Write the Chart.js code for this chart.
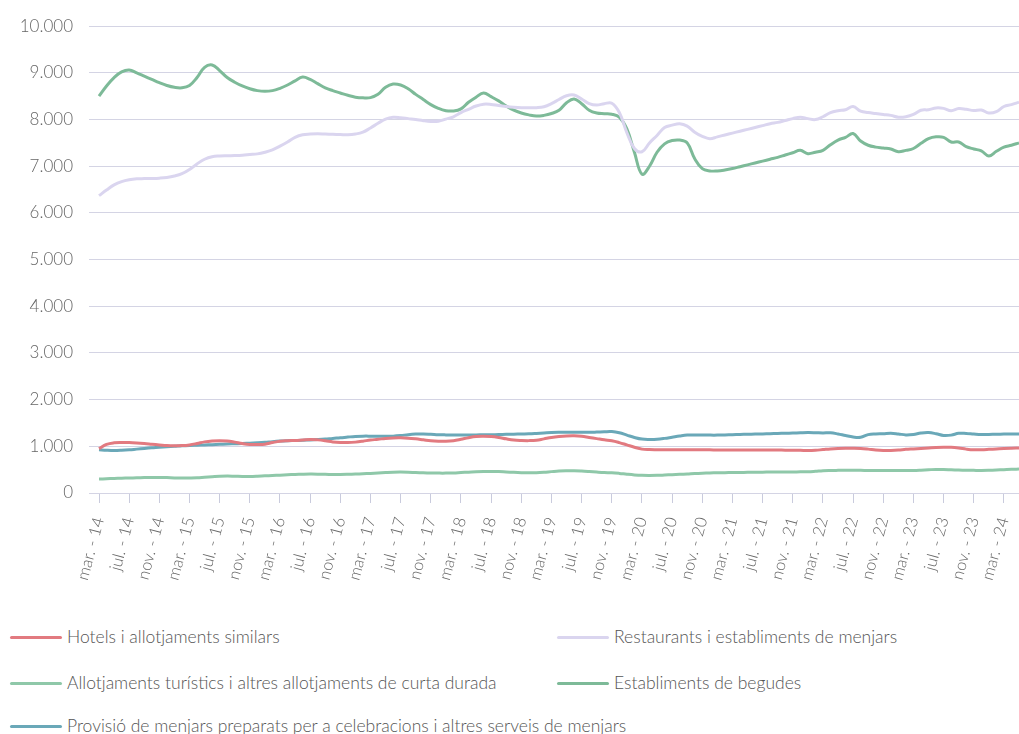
<!DOCTYPE html>
<html>
<head>
<meta charset="utf-8">
<script src="https://cdn.jsdelivr.net/npm/chart.js@4"></script>
<style>
  body { margin: 0; background: #fff; font-family: Lato, "Open Sans", sans-serif; }
  #wrap { position: relative; width: 1019px; height: 734px; overflow: hidden; }
  #legend { position: absolute; left: 0; top: 626px; width: 1019px; }
  .item { position: absolute; display: flex; align-items: center; font-size: 17.5px; font-weight: 300; color: #555; white-space: nowrap; line-height: 22px; }
  .item span.line { display: inline-block; width: 52px; height: 3px; border-radius: 2px; margin-right: 5px; }
</style>
</head>
<body>
<div id="wrap">
  <canvas id="chart" width="1019" height="600"></canvas>
  <div id="legend"></div>
</div>
<script>
// months mar. 2014 - maig 2024
var mesos = ['gen.', 'febr.', 'mar.', 'abr.', 'maig', 'juny', 'jul.', 'ag.', 'set.', 'oct.', 'nov.', 'des.'];
var labels = [];
for (var k = 0; k < 123; k++) {
  var m = (2 + k) % 12;
  var y = 14 + Math.floor((2 + k) / 12);
  labels.push(mesos[m] + ' - ' + y);
}

var hotels = [950, 1040, 1075, 1082, 1080, 1072, 1060, 1045, 1030, 1015, 1010, 1015, 1030, 1060, 1095, 1115, 1122, 1115, 1090, 1060,
  1040, 1038, 1045, 1080, 1110, 1120, 1125, 1135, 1145, 1138, 1120, 1095, 1082, 1080, 1090, 1110, 1135, 1150, 1170, 1180,
  1182, 1175, 1160, 1140, 1120, 1110, 1108, 1120, 1150, 1185, 1210, 1215, 1210, 1190, 1160, 1135, 1125, 1122, 1130, 1160,
  1190, 1210, 1222, 1225, 1215, 1190, 1165, 1140, 1120, 1080, 1030, 980, 940, 930, 928, 927, 926, 926, 925, 925,
  924, 924, 923, 923, 922, 922, 921, 921, 920, 920, 919, 918, 917, 915, 910, 915, 930, 945, 955, 960,
  960, 955, 940, 920, 910, 912, 920, 935, 945, 955, 965, 975, 980, 980, 965, 940, 925, 927, 935, 945,
  955, 960, 962];

var restaurants = [6370, 6490, 6600, 6670, 6710, 6730, 6735, 6738, 6745, 6760, 6790, 6840, 6930, 7050, 7150, 7205, 7220, 7225, 7228, 7235,
  7250, 7265, 7300, 7350, 7430, 7520, 7620, 7675, 7690, 7695, 7690, 7685, 7680, 7675, 7690, 7730, 7820, 7920, 8010, 8050,
  8040, 8020, 8000, 7975, 7960, 7965, 8010, 8060, 8150, 8220, 8290, 8330, 8325, 8300, 8280, 8265, 8255, 8252, 8255, 8275,
  8340, 8430, 8510, 8525, 8440, 8340, 8310, 8340, 8350, 8150, 7720, 7380, 7310, 7500, 7660, 7830, 7880, 7910, 7860, 7730,
  7640, 7590, 7630, 7670, 7710, 7750, 7790, 7830, 7870, 7910, 7940, 7980, 8020, 8050, 8020, 8000, 8060, 8150, 8190, 8210,
  8280, 8180, 8150, 8130, 8110, 8090, 8050, 8060, 8110, 8200, 8210, 8250, 8240, 8190, 8235, 8220, 8195, 8205, 8140, 8170,
  8280, 8320, 8370];

var turistics = [300, 305, 312, 318, 322, 326, 330, 333, 334, 330, 322, 320, 323, 328, 338, 348, 358, 363, 360, 356,
  355, 360, 368, 375, 382, 390, 397, 402, 405, 404, 400, 398, 397, 400, 405, 412, 420, 428, 438, 446,
  448, 445, 438, 432, 428, 426, 426, 430, 438, 446, 455, 460, 462, 458, 450, 442, 436, 433, 436, 445,
  458, 470, 475, 476, 470, 460, 448, 438, 433, 420, 402, 387, 378, 376, 378, 385, 393, 400, 408, 418,
  425, 430, 433, 436, 438, 440, 442, 445, 447, 449, 450, 451, 452, 453, 455, 465, 478, 483, 485, 486,
  486, 485, 484, 484, 483, 483, 483, 483, 484, 490, 498, 505, 504, 498, 492, 488, 485, 483, 486, 492,
  500, 508, 512];

var begudes = [8500, 8720, 8900, 9020, 9060, 9000, 8930, 8860, 8790, 8730, 8690, 8680, 8730, 8900, 9120, 9170, 9050, 8900, 8800, 8720,
  8660, 8620, 8605, 8620, 8670, 8740, 8830, 8910, 8860, 8770, 8680, 8620, 8570, 8520, 8480, 8465, 8470, 8540, 8690, 8760,
  8740, 8660, 8540, 8430, 8320, 8240, 8190, 8185, 8230, 8370, 8480, 8570, 8490, 8400, 8290, 8200, 8140, 8100, 8075, 8090,
  8130, 8200, 8360, 8440, 8340, 8200, 8140, 8125, 8115, 8050, 7800, 7300, 6830, 7000, 7300, 7480, 7550, 7560, 7500, 7160,
  6950, 6900, 6900, 6920, 6950, 6990, 7030, 7070, 7110, 7150, 7190, 7240, 7290, 7340, 7270, 7300, 7340, 7460, 7560, 7620,
  7700, 7540, 7450, 7410, 7390, 7370, 7310, 7340, 7380, 7490, 7590, 7630, 7620, 7520, 7520, 7420, 7370, 7330, 7220, 7320,
  7410, 7450, 7500];

var provisio = [925, 915, 910, 915, 925, 940, 955, 968, 978, 990, 1000, 1012, 1020, 1025, 1030, 1035, 1042, 1050, 1055, 1060,
  1068, 1075, 1085, 1100, 1112, 1120, 1125, 1130, 1138, 1145, 1155, 1170, 1182, 1198, 1212, 1218, 1218, 1216, 1215, 1217,
  1230, 1250, 1262, 1265, 1258, 1248, 1245, 1245, 1244, 1244, 1245, 1246, 1248, 1252, 1256, 1260, 1264, 1267, 1275, 1285,
  1295, 1300, 1302, 1303, 1302, 1300, 1305, 1312, 1315, 1290, 1240, 1190, 1155, 1148, 1152, 1170, 1195, 1220, 1240, 1245,
  1243, 1240, 1240, 1245, 1250, 1255, 1258, 1262, 1266, 1270, 1275, 1280, 1285, 1290, 1294, 1292, 1288, 1290, 1265, 1230,
  1200, 1195, 1250, 1265, 1270, 1280, 1265, 1245, 1255, 1285, 1295, 1270, 1232, 1240, 1278, 1275, 1262, 1252, 1255, 1258,
  1262, 1265, 1265];

var series = [
  { name: 'Hotels i allotjaments similars', data: hotels, color: '#e27a80' },
  { name: 'Restaurants i establiments de menjars', data: restaurants, color: '#dad5ef' },
  { name: 'Allotjaments turístics i altres allotjaments de curta durada', data: turistics, color: '#8fc8a9' },
  { name: 'Establiments de begudes', data: begudes, color: '#7dba98' },
  { name: 'Provisió de menjars preparats per a celebracions i altres serveis de menjars', data: provisio, color: '#6aa8b8' }
];

var datasets = series.map(function (s) {
  return {
    label: s.name,
    data: s.data,
    borderColor: s.color,
    backgroundColor: s.color,
    borderWidth: 3,
    pointRadius: 0,
    tension: 0.4,
    fill: false
  };
});

new Chart(document.getElementById('chart'), {
  type: 'line',
  data: { labels: labels, datasets: datasets },
  options: {
    responsive: false,
    animation: false,
    layout: { padding: { top: 24, right: 0, left: 0, bottom: 0 } },
    plugins: { legend: { display: false }, tooltip: { enabled: false } },
    scales: {
      x: {
        afterBuildTicks: function (axis) {
          axis.ticks = axis.ticks.filter(function (t, i) { return i % 4 === 0; });
        },
        afterFit: function (axis) {
          axis.height = 107;
          axis.paddingLeft = 0;
          axis.paddingRight = 0;
        },
        grid: { drawOnChartArea: false, tickLength: 10, color: '#c9cbdd' },
        border: { display: false },
        ticks: {
          autoSkip: false,
          minRotation: 75,
          maxRotation: 75,
          padding: 12,
          color: '#666',
          font: { family: 'Lato', weight: 300, size: 16.5 }
        }
      },
      y: {
        min: 0,
        max: 10000,
        afterFit: function (axis) { axis.width = 99; },
        grid: { color: '#d4d4e4', tickLength: 10, lineWidth: 1 },
        border: { display: false },
        ticks: {
          stepSize: 1000,
          padding: 16,
          color: '#666',
          font: { family: 'Lato', weight: 300, size: 17 },
          callback: function (v) { return String(v).replace(/\B(?=(\d{3})+(?!\d))/g, '.'); }
        }
      }
    }
  }
});

// legend, two columns like the original
var legend = document.getElementById('legend');
var pos = [[10, 0], [557, 0], [10, 46], [557, 46], [10, 89]];
series.forEach(function (s, i) {
  var d = document.createElement('div');
  d.className = 'item';
  d.style.left = pos[i][0] + 'px';
  d.style.top = pos[i][1] + 'px';
  d.innerHTML = '<span class="line" style="background:' + s.color + '"></span>' + s.name;
  legend.appendChild(d);
});
</script>
</body>
</html>
